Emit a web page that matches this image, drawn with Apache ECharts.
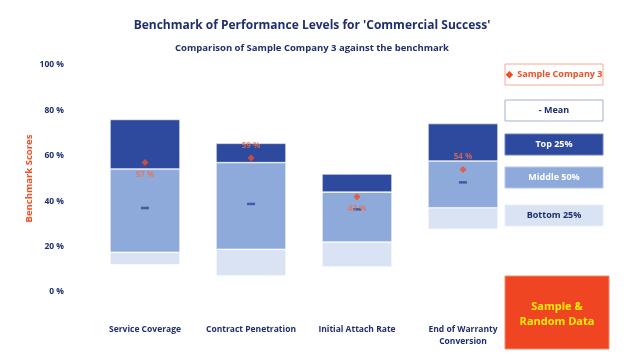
<!DOCTYPE html>
<html><head><meta charset="utf-8">
<script src="https://cdn.jsdelivr.net/npm/echarts@6/dist/echarts.min.js"></script>
<style>html,body{margin:0;padding:0;background:#fff}#c{width:624px;height:364px}</style>
</head><body><div id="c"></div>
<script>
const categories = ['Service Coverage', 'Contract Penetration', 'Initial Attach Rate', 'End of Warranty\nConversion'];
const bottomStart = [12, 7, 11, 27.6];   // lower edge of Bottom 25%
const q1 = [17.5, 18.8, 22, 37.1];        // Bottom 25% / Middle 50% boundary
const q3 = [54.2, 57, 44, 57.7];          // Middle 50% / Top 25% boundary
const topEnd = [76, 65.5, 52, 74.2];      // upper edge of Top 25%
const meanVals = [37, 38.8, 36.4, 48.3];
const sampleVals = [57, 59, 42, 54];
const sampleLabelPos = ['bottom', 'top', 'bottom', 'top'];
const yTicks = [0, 20, 40, 60, 80, 100];

const NAVY = '#1f2f6e';
const DARK = '#2e4a9e', MID = '#8eaadb', LIGHT = '#dae3f3', ORANGE = '#f04e23';
const FONT = 'Open Sans';

const diff = (a, b) => a.map((v, i) => +(v - b[i]).toFixed(2));
const barCommon = { type: 'bar', stack: 'b', barWidth: 70 };

const chart = echarts.init(document.getElementById('c'));
const legendBox = (y, text, fill, stroke, color) => ([
  { type: 'rect', shape: { x: 505, y: y, width: 98, height: 21 }, style: { fill: fill, stroke: stroke, lineWidth: 1 } },
  { type: 'text', x: 554, y: y + 10.5, style: { text: text, fill: color, font: 'bold 9px ' + FONT, align: 'center', verticalAlign: 'middle' } }
]);
chart.setOption({
  animation: false,
  textStyle: { fontFamily: FONT },
  title: [
    { text: "Benchmark of Performance Levels for 'Commercial Success'", left: 'center', top: 15, textStyle: { color: NAVY, fontSize: 12, fontWeight: 'bold', fontFamily: FONT } },
    { text: 'Comparison of Sample Company 3 against the benchmark', left: 'center', top: 38, textStyle: { color: NAVY, fontSize: 9.5, fontWeight: 'bold', fontFamily: FONT } }
  ],
  grid: { left: 92, right: 108, top: 65, bottom: 72 },
  xAxis: {
    type: 'category', data: categories,
    axisLine: { show: false }, axisTick: { show: false },
    axisLabel: { color: NAVY, fontSize: 8.5, fontWeight: 'bold', margin: 32, lineHeight: 12, interval: 0 }
  },
  yAxis: {
    type: 'value', min: yTicks[0], max: yTicks[yTicks.length - 1], interval: 20,
    splitLine: { show: false }, axisLine: { show: false }, axisTick: { show: false },
    axisLabel: { color: NAVY, fontSize: 8.5, fontWeight: 'bold', margin: 28, formatter: v => v + ' %' },
    name: 'Benchmark Scores', nameLocation: 'middle', nameGap: 58, nameMoveOverlap: false,
    nameTextStyle: { color: ORANGE, fontSize: 9.5, fontWeight: 'bold' }
  },
  series: [
    Object.assign({}, barCommon, { name: 'base', data: bottomStart, itemStyle: { color: 'transparent' } }),
    Object.assign({}, barCommon, { name: 'Bottom 25%', data: diff(q1, bottomStart), itemStyle: { color: LIGHT, borderColor: '#fff', borderWidth: 0.6 } }),
    Object.assign({}, barCommon, { name: 'Middle 50%', data: diff(q3, q1), itemStyle: { color: MID, borderColor: '#fff', borderWidth: 0.6 } }),
    Object.assign({}, barCommon, { name: 'Top 25%', data: diff(topEnd, q3), itemStyle: { color: DARK, borderColor: '#fff', borderWidth: 0.6 } }),
    { type: 'scatter', name: 'Mean', data: meanVals, symbol: 'rect', symbolSize: [8, 2.5], itemStyle: { color: DARK }, z: 5 },
    { type: 'scatter', name: 'Sample Company 3', symbol: 'diamond', symbolSize: 7, itemStyle: { color: ORANGE }, z: 6,
      data: sampleVals.map((v, i) => ({ value: v, label: { position: sampleLabelPos[i] } })),
      label: { show: true, formatter: p => p.value + ' %', color: '#f26b4a', fontSize: 8, fontWeight: 'bold', distance: 5 } }
  ],
  graphic: [
    ...legendBox(64, '\u25C6  Sample Company 3', '#fff', '#f7a894', ORANGE),
    ...legendBox(100, '- Mean', '#fff', '#a4afd6', NAVY),
    ...legendBox(134, 'Top 25%', DARK, '#6d82c2', '#fff'),
    ...legendBox(167, 'Middle 50%', MID, '#b7c7e8', '#fff'),
    ...legendBox(205, 'Bottom 25%', LIGHT, '#e8eef8', NAVY),
    { type: 'rect', shape: { x: 505, y: 276, width: 104, height: 73 }, style: { fill: '#ef4523', stroke: '#f58a6e', lineWidth: 1 } },
    { type: 'text', x: 557, y: 314.5, style: { text: 'Sample &\nRandom Data', fill: '#ffee00', font: 'bold 11px ' + FONT, align: 'center', verticalAlign: 'middle', lineHeight: 15 } }
  ]
});
</script></body></html>
